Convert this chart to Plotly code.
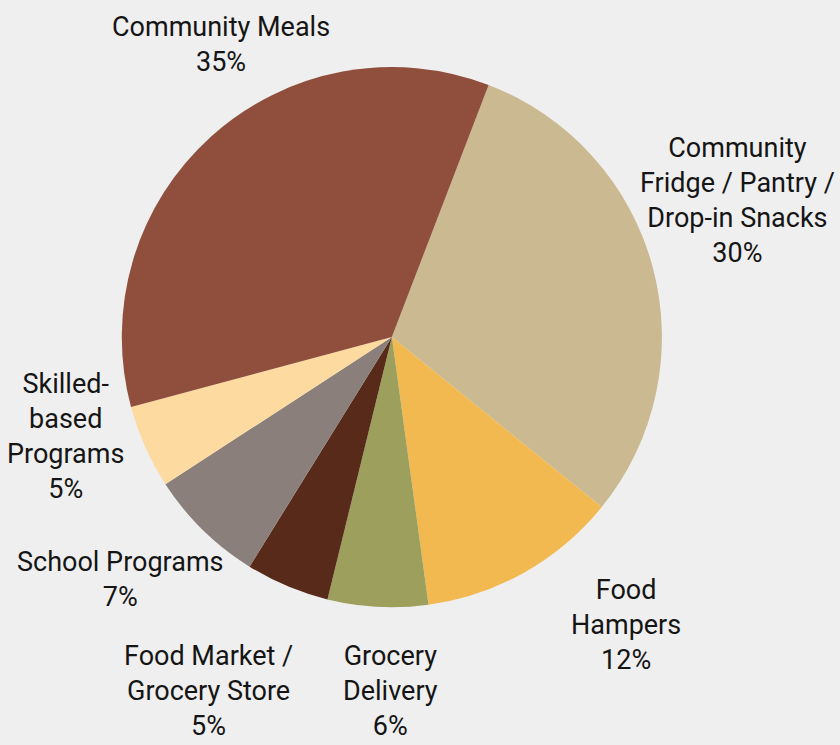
import math
import plotly.graph_objects as go

# Program types, listed clockwise from the top-right slice
labels = [
    "Community<br>Fridge / Pantry /<br>Drop-in Snacks",
    "Food<br>Hampers",
    "Grocery<br>Delivery",
    "Food Market /<br>Grocery Store",
    "School Programs",
    "Skilled-<br>based<br>Programs",
    "Community Meals",
]
shares = [30, 12, 6, 5, 7, 5, 35]
colors = ["#CBB991", "#F3B951", "#9CA05C", "#582A1A", "#8A7F7A", "#FDDBA0", "#8F4F3C"]

W, H = 840, 745
ROTATION = 21  # degrees clockwise from 12 o'clock where the first slice starts
DOM_X = [0.145, 0.788]
DOM_Y = [0.185, 0.910]

# label anchoring relative to the slice's outer edge point (layout only)
label_anchor = [
    ("left", "bottom", -15, 4),
    ("left", "top", 45, 0),
    ("center", "top", 13, 31),
    ("right", "top", 8, 52),
    ("right", "top", 23, 14),
    ("right", "middle", -19, -10),
    ("center", "bottom", 10, -56),
]

fig = go.Figure(
    go.Pie(
        labels=labels,
        values=shares,
        sort=False,
        direction="clockwise",
        rotation=ROTATION,
        marker=dict(colors=colors, line=dict(width=0)),
        textinfo="none",
        hoverinfo="label+percent",
        showlegend=False,
        domain=dict(x=DOM_X, y=DOM_Y),
    )
)

# pie geometry in pixels
cx = (DOM_X[0] + DOM_X[1]) / 2 * W
cy = (1 - (DOM_Y[0] + DOM_Y[1]) / 2) * H
radius = min((DOM_X[1] - DOM_X[0]) * W, (DOM_Y[1] - DOM_Y[0]) * H) / 2

total = sum(shares)
start = ROTATION
for lab, val, (xa, ya, dx, dy) in zip(labels, shares, label_anchor):
    sweep = val / total * 360
    mid = math.radians(start + sweep / 2)
    start += sweep
    px = cx + radius * math.sin(mid) + dx
    py = cy - radius * math.cos(mid) + dy
    fig.add_annotation(
        x=px / W,
        y=1 - py / H,
        xref="paper",
        yref="paper",
        xanchor=xa,
        yanchor=ya,
        text=f"{lab}<br>{round(val / total * 100)}%",
        showarrow=False,
        align="center",
        font=dict(family="Roboto, sans-serif", size=27, color="#151515"),
    )

fig.update_layout(
    width=W,
    height=H,
    margin=dict(l=0, r=0, t=0, b=0),
    paper_bgcolor="#EFEFEF",
    plot_bgcolor="#EFEFEF",
)

fig.write_html("out.html")
